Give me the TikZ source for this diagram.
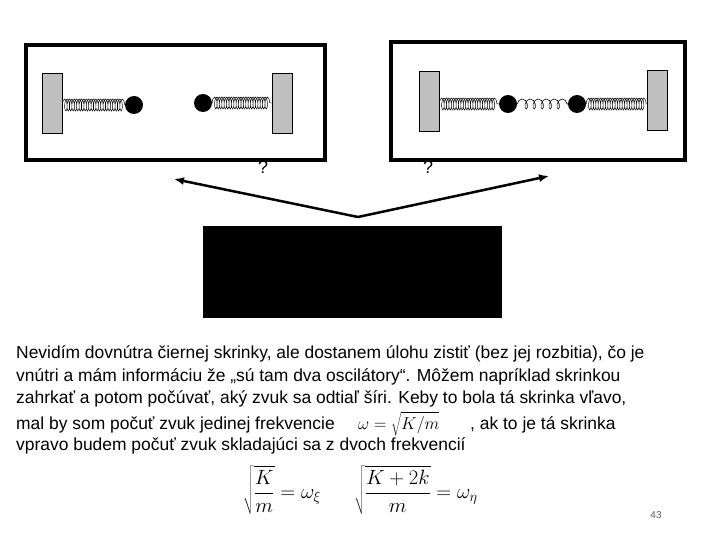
\documentclass[tikz,border=0pt]{standalone}
\usepackage{fontspec}
\setmainfont{Liberation Sans}
\usetikzlibrary{decorations.pathmorphing, arrows.meta, positioning}
\begin{document}
\begin{tikzpicture}[x=1bp, y=-1bp,
    box/.style={draw, line width=3.5bp},
    wall/.style={draw, fill=gray!50, line width=0.6bp, minimum width=20bp, minimum height=60bp, inner sep=0pt},
    ball/.style={circle, fill=black, inner sep=0pt, minimum size=18bp},
    spring/.style={decorate, decoration={coil, aspect=0.3, segment length=2.4bp, amplitude=6bp}, line width=0.5bp},
    soft/.style={decorate, decoration={coil, aspect=0.6, segment length=8bp, amplitude=5bp}, line width=0.6bp},
    arrow/.style={-{Latex[length=10bp,width=8bp]}, line width=2.5bp},
    txt/.style={anchor=base west, inner sep=0pt, font=\fontsize{17.5}{21}\selectfont}
]
\useasboundingbox (0,0) rectangle (720,540);
% left box
\draw[box] (26,45) rectangle (325,160);
\node[wall] (lw1) at (52,103) {};
\node[wall] (lw2) at (282,103) {};
\node[ball] (lb1) at (134,105) {};
\node[ball] (lb2) at (203,103) {};
\draw[spring] (lw1.east |- lb1) -- (lb1.west);
\draw[spring] (lb2.east) -- (lw2.west |- lb2);
% right box
\draw[box] (391,42) rectangle (685,160);
\node[wall] (rw1) at (429,101) {};
\node[wall] (rw2) at (657,100) {};
\node[ball] (rb1) at (508,104) {};
\node[ball] (rb2) at (577,104) {};
\draw[spring] (rw1.east |- rb1) -- (rb1.west);
\draw[soft] (rb1.east) -- (rb2.west);
\draw[spring] (rb2.east) -- (rw2.west |- rb2);
% arrows
\coordinate (tip) at (358,217);
\coordinate (lt) at (174,179);
\coordinate (rt) at (549,176);
\draw[arrow] (tip) -- (lt);
\draw[arrow] (tip) -- (rt);
\node[font=\fontsize{18}{18}\selectfont\rmfamily] (q1) at (263,167) {?};
\node[font=\fontsize{18}{18}\selectfont\rmfamily] (q2) at (428,167) {?};
% black box
\fill[black] (203,226) rectangle (502,318);
% text
\node[txt] (l1) at (16,358) {Nevidím dovnútra čiernej skrinky, ale dostanem úlohu zistiť (bez jej rozbitia), čo je};
\node[txt] (l2) at (16,381) {vnútri a mám informáciu že „sú tam dva oscilátory“. Môžem napríklad skrinkou};
\node[txt] (l3) at (16,403) {zahrkať a potom počúvať, aký zvuk sa odtiaľ šíri. Keby to bola tá skrinka vľavo,};
\node[txt] (l4) at (16,429) {mal by som počuť zvuk jedinej frekvencie};
\node[anchor=base west, inner sep=0pt, font=\fontsize{18}{18}\selectfont] (f0) at (358,429) {$\omega=\sqrt{K/m}$};
\node[txt] (l4b) at (470,429) {, ak to je tá skrinka};
\node[txt] (l5) at (16,450) {vpravo budem počuť zvuk skladajúci sa z dvoch frekvencií};
\node[font=\fontsize{20}{20}\selectfont] (f1) at (282,490) {$\displaystyle\sqrt{\frac{K}{m}}=\omega_\xi$};
\node[font=\fontsize{20}{20}\selectfont] (f2) at (416,490) {$\displaystyle\sqrt{\frac{K+2k}{m}}=\omega_\eta$};
\node[font=\fontsize{10}{10}\selectfont, text=gray!70!black] (pg) at (656,515) {43};
\end{tikzpicture}
\end{document}
